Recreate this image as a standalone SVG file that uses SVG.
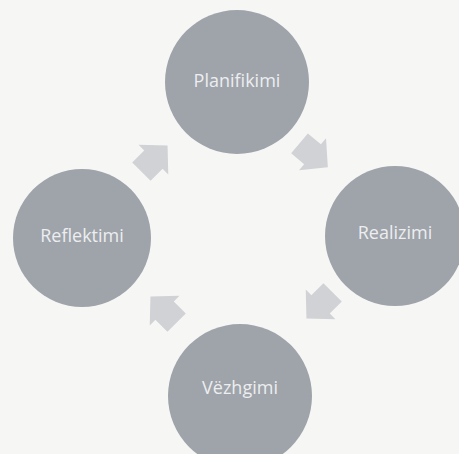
<svg xmlns="http://www.w3.org/2000/svg" width="459" height="454" viewBox="0 0 459 454">
<defs>
<style>
.node{fill:#9fa3aa}
.lbl{fill:#eceef0;font-family:"Open Sans","Liberation Sans",sans-serif;font-size:18px;text-anchor:middle}
.arr{fill:#d1d2d6}
</style>
<path id="arrow" d="M-15,-13 L2,-13 L2,-21 L22,0 L2,21 L2,13 L-15,13 Z"/>
</defs>
<rect width="459" height="454" fill="#f6f6f5"/>
<g id="connectors" class="arr">
<use href="#arrow" transform="translate(311,153) rotate(40)"/>
<use href="#arrow" transform="translate(322,303) rotate(135)"/>
<use href="#arrow" transform="translate(166,312) rotate(225)"/>
<use href="#arrow" transform="translate(152,161) rotate(-45)"/>
</g>
<g id="planifikimi">
<circle class="node" cx="237" cy="82" r="72"/>
<text class="lbl" x="237" y="87">Planifikimi</text>
</g>
<g id="realizimi">
<circle class="node" cx="395" cy="236" r="70"/>
<text class="lbl" x="395" y="239">Realizimi</text>
</g>
<g id="vezhgimi">
<circle class="node" cx="240" cy="396" r="72"/>
<text class="lbl" x="240" y="394">Vëzhgimi</text>
</g>
<g id="reflektimi">
<circle class="node" cx="82" cy="238" r="69"/>
<text class="lbl" x="82" y="242">Reflektimi</text>
</g>
</svg>
